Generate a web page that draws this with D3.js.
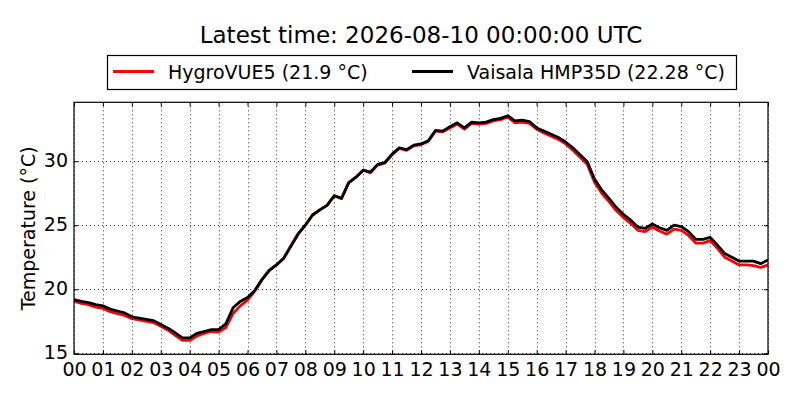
<!DOCTYPE html>
<html>
<head>
<meta charset="utf-8">
<script src="https://cdn.jsdelivr.net/npm/d3@7"></script>
<style>
  html, body { margin: 0; padding: 0; background: #fff; }
  svg { display: block; font-family: "DejaVu Sans", sans-serif; }
</style>
</head>
<body>
<svg id="chart" width="800" height="400"></svg>
<script>
// ---- data ----
const titleText = "Latest time: 2026-08-10 00:00:00 UTC";
const yLabel = "Temperature (°C)";
const seriesNames = ["HygroVUE5 (21.9 °C)", "Vaisala HMP35D (22.28 °C)"];
const seriesColors = ["#ff0000", "#000000"];
const xTickValues = [0,1,2,3,4,5,6,7,8,9,10,11,12,13,14,15,16,17,18,19,20,21,22,23,24];
const xTickLabels = ["00","01","02","03","04","05","06","07","08","09","10","11","12","13","14","15","16","17","18","19","20","21","22","23","00"];
const yTickValues = [15, 20, 25, 30];

// hours since 00 UTC
const hours = [
  0,0.25,0.5,0.75,1,1.25,1.5,1.75,2,2.25,2.5,2.75,3,3.25,3.5,3.75,
  4,4.25,4.5,4.75,5,5.25,5.5,5.75,6,6.25,6.5,6.75,7,7.25,7.5,7.75,
  8,8.25,8.5,8.75,9,9.25,9.5,9.75,10,10.25,10.5,10.75,11,11.25,11.5,11.75,
  12,12.25,12.5,12.75,13,13.25,13.5,13.75,14,14.25,14.5,14.75,15,15.25,15.5,15.75,
  16,16.25,16.5,16.75,17,17.25,17.5,17.75,18,18.25,18.5,18.75,19,19.25,19.5,19.75,
  20,20.25,20.5,20.75,21,21.25,21.5,21.75,22,22.25,22.5,22.75,23,23.25,23.5,23.75,24
];

const hygroVUE5 = [
  19.05,18.9,18.8,18.6,18.5,18.25,18.1,17.95,17.7,17.6,17.5,17.4,17.1,16.8,16.4,16.0,
  16.0,16.35,16.55,16.7,16.65,17.0,18.1,18.7,19.15,19.85,20.75,21.5,21.9,22.45,23.4,24.35,
  25.0,25.8,26.2,26.55,27.3,27.1,28.35,28.75,29.3,29.1,29.7,29.85,30.5,31.0,30.85,31.2,
  31.3,31.55,32.35,32.3,32.6,32.9,32.5,32.95,32.9,32.95,33.15,33.25,33.45,33.0,33.05,32.95,
  32.5,32.2,31.95,31.7,31.35,30.85,30.3,29.75,28.35,27.5,26.85,26.15,25.6,25.15,24.6,24.5,
  24.85,24.55,24.3,24.7,24.6,24.2,23.6,23.6,23.8,23.2,22.5,22.2,21.9,21.9,21.85,21.7,21.9
];

const vaisalaHMP35D = [
  19.2,19.05,18.95,18.8,18.7,18.45,18.3,18.15,17.85,17.75,17.65,17.55,17.25,16.95,16.6,16.2,
  16.2,16.55,16.7,16.85,16.85,17.3,18.55,19.05,19.35,19.9,20.75,21.45,21.9,22.4,23.35,24.3,
  25.0,25.8,26.2,26.55,27.3,27.1,28.3,28.75,29.3,29.15,29.75,29.9,30.55,31.05,30.9,31.25,
  31.35,31.6,32.4,32.35,32.7,33.0,32.6,33.05,33.0,33.05,33.25,33.35,33.55,33.15,33.2,33.1,
  32.6,32.35,32.1,31.85,31.5,31.05,30.5,29.95,28.6,27.75,27.1,26.4,25.85,25.4,24.85,24.75,
  25.1,24.8,24.6,25.0,24.9,24.5,23.9,23.9,24.05,23.45,22.8,22.5,22.2,22.2,22.2,22.0,22.28
];

// ---- layout ----
const svg = d3.select("#chart");
const plot = { left: 74, right: 768, top: 102.3, bottom: 354.3 };

const x = d3.scaleLinear().domain([0, 24]).range([plot.left, plot.right]);
const y = d3.scaleLinear().domain([14.92, 34.6]).range([plot.bottom, plot.top]);

svg.append("rect").attr("width", 800).attr("height", 400).attr("fill", "#fff");

// clip
svg.append("clipPath").attr("id", "clip")
  .append("rect")
  .attr("x", plot.left).attr("y", plot.top)
  .attr("width", plot.right - plot.left).attr("height", plot.bottom - plot.top);

// grid
const grid = svg.append("g").attr("class", "grid");
grid.selectAll("line.vx").data(xTickValues).enter().append("line")
  .attr("x1", d => Math.round(x(d)) + 0.5).attr("x2", d => Math.round(x(d)) + 0.5)
  .attr("y1", plot.top).attr("y2", plot.bottom)
  .attr("stroke", "#000").attr("stroke-width", 1).attr("stroke-dasharray", "1,3")
  .attr("opacity", 0.8);
grid.selectAll("line.hy").data(yTickValues).enter().append("line")
  .attr("y1", d => Math.round(y(d)) + 0.5).attr("y2", d => Math.round(y(d)) + 0.5)
  .attr("x1", plot.left).attr("x2", plot.right)
  .attr("stroke", "#000").attr("stroke-width", 1).attr("stroke-dasharray", "1,3")
  .attr("opacity", 0.8);

// series lines
const line = d3.line()
  .x((d, i) => x(hours[i]))
  .y(d => y(d))
  .curve(d3.curveLinear);

const linesG = svg.append("g").attr("clip-path", "url(#clip)");
[hygroVUE5, vaisalaHMP35D].forEach((s, k) => {
  linesG.append("path")
    .datum(s)
    .attr("d", line)
    .attr("fill", "none")
    .attr("stroke", seriesColors[k])
    .attr("stroke-width", 2.8)
    .attr("stroke-linejoin", "round")
    .attr("stroke-linecap", "butt");
});

// axes (inward ticks on all sides)
const fontSize = 19;
const xAxisB = d3.axisBottom(x).tickValues(xTickValues)
  .tickFormat((d, i) => xTickLabels[i]).tickSizeInner(-4).tickSizeOuter(0).tickPadding(8);
const xAxisT = d3.axisTop(x).tickValues(xTickValues).tickFormat("").tickSizeInner(-4).tickSizeOuter(0);
const yAxisL = d3.axisLeft(y).tickValues(yTickValues).tickFormat(d3.format("d"))
  .tickSizeInner(-4).tickSizeOuter(0).tickPadding(10);
const yAxisR = d3.axisRight(y).tickValues(yTickValues).tickFormat("").tickSizeInner(-4).tickSizeOuter(0);

const gxb = svg.append("g").attr("transform", `translate(0,${plot.bottom})`).call(xAxisB);
const gxt = svg.append("g").attr("transform", `translate(0,${plot.top})`).call(xAxisT);
const gyl = svg.append("g").attr("transform", `translate(${plot.left},0)`).call(yAxisL);
const gyr = svg.append("g").attr("transform", `translate(${plot.right},0)`).call(yAxisR);

[gxb, gxt, gyl, gyr].forEach(g => {
  g.select(".domain").remove();
  g.selectAll(".tick line").attr("stroke", "#000").attr("stroke-width", 1);
  g.selectAll("text").attr("font-size", fontSize).attr("fill", "#000")
    .attr("font-family", "DejaVu Sans, sans-serif");
});
gxb.selectAll("text").attr("dy", null).attr("y", 21.5);
gyl.selectAll("text").attr("dy", null).attr("x", -6).attr("y", 5.5);

// frame
svg.append("rect")
  .attr("x", plot.left).attr("y", plot.top)
  .attr("width", plot.right - plot.left).attr("height", plot.bottom - plot.top)
  .attr("fill", "none").attr("stroke", "#000").attr("stroke-width", 1.2);

// y label
svg.append("text")
  .attr("transform", `translate(35,${(plot.top + plot.bottom) / 2}) rotate(-90)`)
  .attr("text-anchor", "middle")
  .attr("font-size", fontSize)
  .attr("fill", "#000")
  .text(yLabel);

// title
svg.append("text")
  .attr("x", (plot.left + plot.right) / 2).attr("y", 42.5)
  .attr("text-anchor", "middle")
  .attr("font-size", 23)
  .attr("fill", "#000")
  .text(titleText);

// legend
const leg = svg.append("g");
leg.append("rect")
  .attr("x", 107.5).attr("y", 55.5).attr("width", 629).attr("height", 34)
  .attr("fill", "#fff").attr("stroke", "#000").attr("stroke-width", 1.2);
const legX = [113, 412];
seriesNames.forEach((name, k) => {
  leg.append("line")
    .attr("x1", legX[k]).attr("x2", legX[k] + 41)
    .attr("y1", 71.5).attr("y2", 71.5)
    .attr("stroke", seriesColors[k]).attr("stroke-width", 3);
  leg.append("text")
    .attr("x", legX[k] + 55).attr("y", 78.5)
    .attr("font-size", fontSize).attr("fill", "#000")
    .text(name);
});
</script>
</body>
</html>
